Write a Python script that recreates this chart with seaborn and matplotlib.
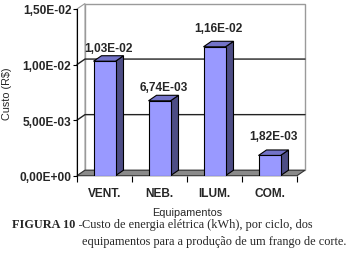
import numpy as np
import pandas as pd
import seaborn as sns
import matplotlib
matplotlib.use("Agg")
import matplotlib.pyplot as plt
from matplotlib.patches import Polygon
from matplotlib.ticker import FuncFormatter, FixedLocator

# dados
equipamentos = ["VENT.", "NEB.", "ILUM.", "COM."]
custo = [1.03e-02, 6.74e-03, 1.16e-02, 1.82e-03]
y_ticks = [0.0, 0.005, 0.010, 0.015]

COR_FRENTE = "#9999FF"
COR_LADO = "#4D4D85"
COR_TOPO = "#7373C8"
DX_PX, DY_PX = 8, 5.5  # profundidade do efeito 3D (pixels)
PAD_ROTULO = [1, 1.5, 5.5, 6]  # afastamento (pt) dos rótulos como no original

sns.set_theme(style="white")
plt.rcParams["font.family"] = ["Liberation Sans", "DejaVu Sans"]

W, H = 351, 255
fig = plt.figure(figsize=(W / 100, H / 100), dpi=100)
ax = fig.add_axes([77 / W, (H - 176.7) / H, 220 / W, 166.7 / H])

df = pd.DataFrame({"Equipamentos": equipamentos, "Custo": custo})
sns.barplot(data=df, x="Equipamentos", y="Custo", color=COR_FRENTE,
            width=0.4, edgecolor="black", linewidth=0.8, saturation=1,
            ax=ax, zorder=5)

x0, x1 = -0.5, len(equipamentos) - 0.5
y0, y1 = y_ticks[0], y_ticks[-1]
ax.set_xlim(x0, x1)
ax.set_ylim(y0, y1)

# conversão pixels -> unidades de dados
ddx = DX_PX * (x1 - x0) / 220
ddy = DY_PX * (y1 - y0) / 166.7

# parede do fundo, parede esquerda e piso
ax.add_patch(Polygon([(x0 + ddx, ddy), (x1 + ddx, ddy), (x1 + ddx, y1 + ddy), (x0 + ddx, y1 + ddy)],
                     closed=True, facecolor="white", edgecolor="#9a9a9a", lw=1, clip_on=False, zorder=0))
ax.add_patch(Polygon([(x0, y0), (x0 + ddx, ddy), (x0 + ddx, y1 + ddy), (x0, y1)],
                     closed=True, facecolor="white", edgecolor="#9a9a9a", lw=0.8, clip_on=False, zorder=0))
for g in y_ticks[1:-1]:
    ax.plot([x0, x0 + ddx, x1 + ddx], [g, g + ddy, g + ddy], color="#222222", lw=1,
            clip_on=False, zorder=1)
ax.add_patch(Polygon([(x0, y0), (x1, y0), (x1 + ddx, ddy), (x0 + ddx, ddy)],
                     closed=True, facecolor="#8a8a8a", edgecolor="#333333", lw=0.8, clip_on=False, zorder=2))

# faces laterais e topo das barras
for p, v, pad in zip(ax.patches[:len(custo)], custo, PAD_ROTULO):
    bx, bw = p.get_x(), p.get_width()
    ax.add_patch(Polygon([(bx + bw, 0), (bx + bw + ddx, ddy), (bx + bw + ddx, v + ddy), (bx + bw, v)],
                         closed=True, facecolor=COR_LADO, edgecolor="black", lw=0.8, clip_on=False, zorder=4))
    ax.add_patch(Polygon([(bx, v), (bx + bw, v), (bx + bw + ddx, v + ddy), (bx + ddx, v + ddy)],
                         closed=True, facecolor=COR_TOPO, edgecolor="black", lw=0.8, clip_on=False, zorder=4))
    ax.annotate(f"{v:.2E}".replace(".", ","), (bx + bw / 2 + ddx / 2, v + ddy),
                xytext=(0, pad), textcoords="offset points", ha="center", va="bottom",
                fontsize=8.6, fontweight="bold", zorder=6)

fmt = FuncFormatter(lambda v, pos: f"{v:.2E}".replace(".", ","))
ax.yaxis.set_major_locator(FixedLocator(y_ticks))
ax.yaxis.set_major_formatter(fmt)
ax.tick_params(axis="y", which="major", left=True, length=3, width=0.8, pad=1,
               labelsize=8.6, color="black")
for t in ax.get_yticklabels():
    t.set_fontweight("bold")
ax.xaxis.set_minor_locator(FixedLocator(np.arange(x0, x1 + 0.01, 1.0)))
ax.tick_params(axis="x", which="major", length=0, pad=8, labelsize=8.6)
ax.tick_params(axis="x", which="minor", bottom=True, length=4, width=0.8, color="black")
for t in ax.get_xticklabels():
    t.set_fontweight("bold")

for s in ["top", "right"]:
    ax.spines[s].set_visible(False)
ax.spines["left"].set_color("black")
ax.spines["left"].set_linewidth(0.8)
ax.spines["bottom"].set_visible(False)
ax.set_facecolor("none")

ax.set_xlabel("Equipamentos", fontsize=7.8, labelpad=6)
ax.set_ylabel("Custo (R$)", fontsize=7.8, labelpad=5)

# legenda da figura
fig.text(12 / W, (H - 225) / H, "FIGURA 10 -", family="Liberation Serif", fontweight="bold",
         fontsize=8.8, va="center", ha="left")
fig.text(82 / W, (H - 225) / H, "Custo de energia elétrica (kWh), por ciclo, dos",
         family="Liberation Serif", fontsize=8.8, va="center", ha="left")
fig.text(82 / W, (H - 242) / H, "equipamentos para a produção de um frango de corte.",
         family="Liberation Serif", fontsize=8.8, va="center", ha="left")

fig.savefig("out.png", dpi=100)
